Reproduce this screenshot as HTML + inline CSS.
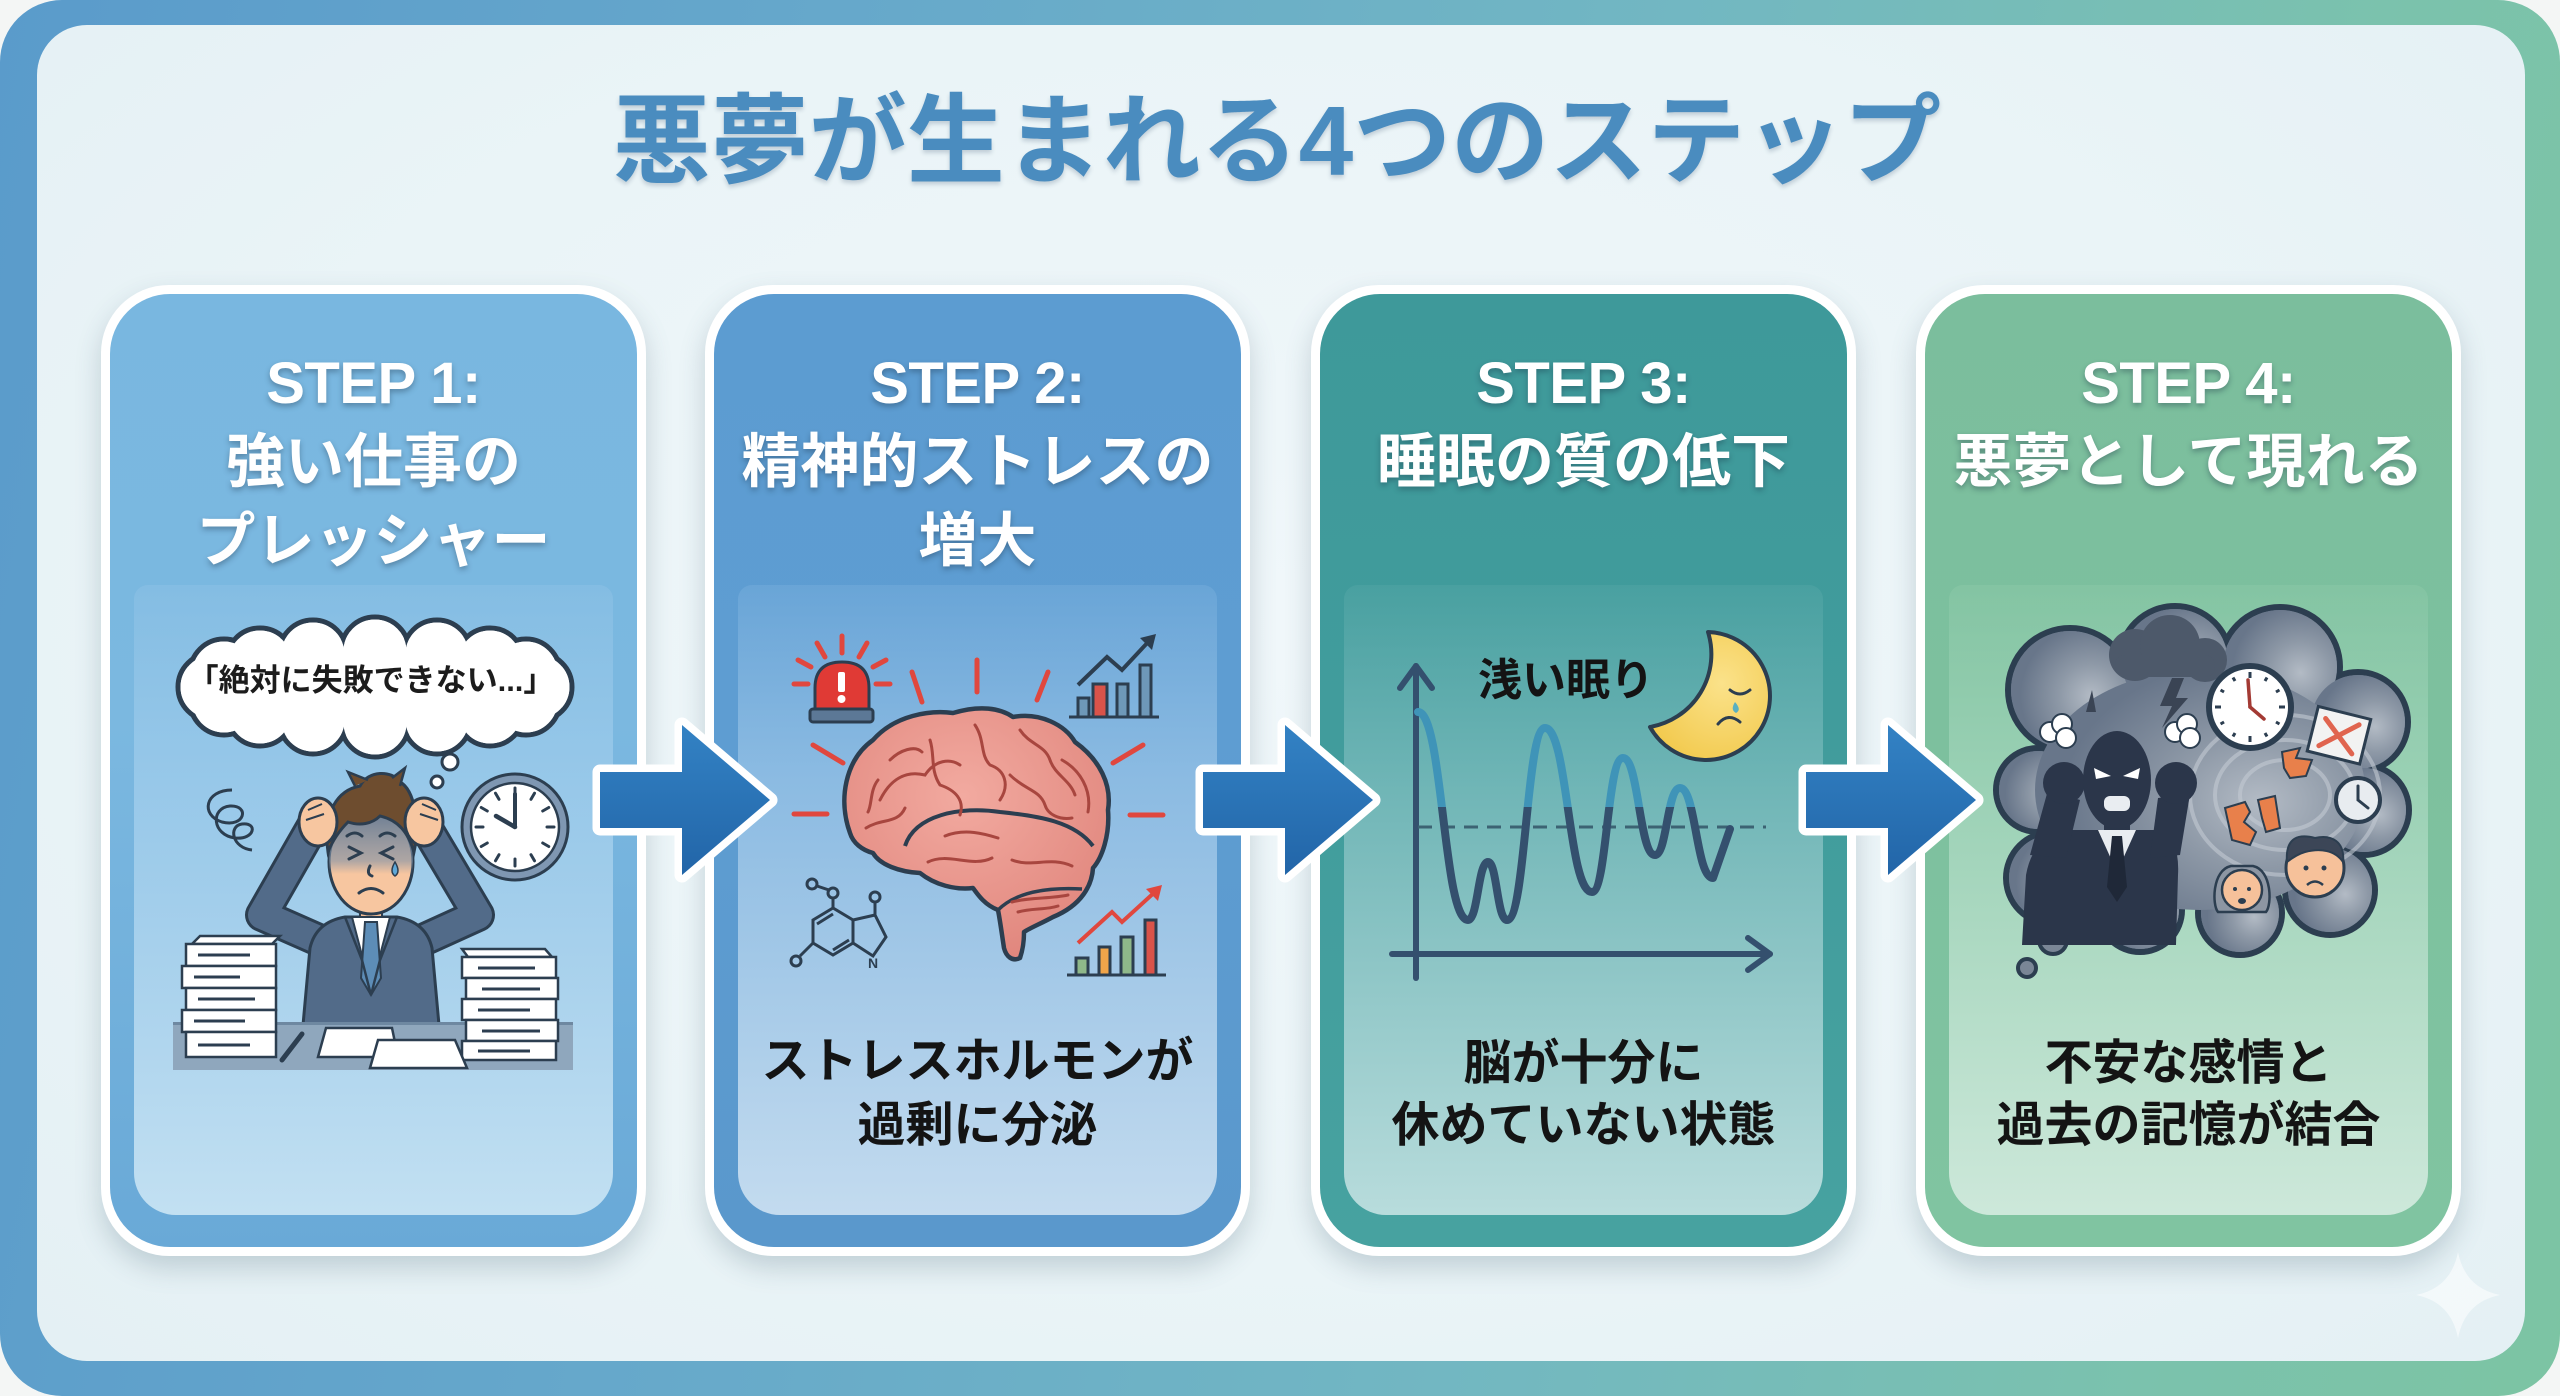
<!DOCTYPE html>
<html lang="ja">
<head>
<meta charset="utf-8">
<style>
  html,body{margin:0;padding:0;}
  body{width:2560px;height:1396px;overflow:hidden;background:#f4f6f5;position:relative;
       font-family:"Liberation Sans","Noto Sans CJK JP",sans-serif;font-weight:bold;}
  .frame{position:absolute;left:0;top:0;width:2560px;height:1396px;border-radius:62px;
       background:linear-gradient(100deg,#5a9bcb 0%,#66a8cb 30%,#72b7c2 60%,#7bc2ad 85%,#7cc4a3 100%);}
  .panel{position:absolute;left:37px;top:25px;width:2488px;height:1336px;border-radius:50px;
       background:radial-gradient(ellipse at 50% 45%,#f0f7fa 0%,#eaf4f7 60%,#e4f0f4 100%);}
  .title{position:absolute;left:0;top:86px;width:2554px;text-align:center;font-size:98px;line-height:110px;
       color:#4a8cbf;text-shadow:0 3px 4px rgba(40,70,100,0.22);white-space:nowrap;}
  .card{position:absolute;top:285px;width:545px;height:971px;border-radius:68px;background:#fff;
       box-shadow:0 12px 26px rgba(50,80,100,0.22);}
  .col{position:absolute;left:9px;top:9px;right:9px;bottom:9px;border-radius:60px;}
  .inn{position:absolute;left:33px;right:33px;top:300px;bottom:41px;border-radius:14px 14px 42px 42px;}
  .h{position:absolute;width:545px;text-align:center;color:#fff;font-size:59px;line-height:80px;
       text-shadow:0 3px 6px rgba(20,40,60,0.35);white-space:nowrap;}
  .h.s{font-size:58px;letter-spacing:-0.5px;}
  .b{position:absolute;width:545px;text-align:center;color:#141414;font-size:48px;line-height:64px;white-space:nowrap;}
</style>
</head>
<body>
<div class="frame"></div>
<div class="panel"></div>
<div class="title">悪夢が生まれる4つのステップ</div>

<!-- cards -->
<div class="card" style="left:101px;">
  <div class="col" style="background:linear-gradient(180deg,#79b7e0 0%,#7bb8e0 45%,#69a9d7 100%);"></div>
  <div class="inn" style="background:linear-gradient(180deg,rgba(150,198,232,0.35) 0%,rgba(160,205,236,0.75) 30%,#c2e0f2 100%);"></div>
</div>
<div class="card" style="left:705px;">
  <div class="col" style="background:linear-gradient(180deg,#5c9cd1 0%,#5e9dd2 45%,#5a98cc 100%);"></div>
  <div class="inn" style="background:linear-gradient(180deg,rgba(128,180,224,0.35) 0%,rgba(150,194,230,0.8) 30%,#c3dbef 100%);"></div>
</div>
<div class="card" style="left:1311px;">
  <div class="col" style="background:linear-gradient(180deg,#3e999a 0%,#419c9c 45%,#47a2a0 100%);"></div>
  <div class="inn" style="background:linear-gradient(180deg,rgba(90,170,170,0.35) 0%,rgba(120,186,187,0.8) 30%,#b8dcdc 100%);"></div>
</div>
<div class="card" style="left:1916px;">
  <div class="col" style="background:linear-gradient(180deg,#7bbe9d 0%,#7dc09e 45%,#80c4a1 100%);"></div>
  <div class="inn" style="background:linear-gradient(180deg,rgba(145,205,172,0.35) 0%,rgba(160,212,185,0.8) 30%,#cde8da 100%);"></div>
</div>

<svg width="2560" height="1396" viewBox="0 0 2560 1396" style="position:absolute;left:0;top:0;">
  <defs>
    <linearGradient id="arrowg" x1="0" y1="0" x2="0" y2="1">
      <stop offset="0" stop-color="#3382c4"/>
      <stop offset="1" stop-color="#2265a8"/>
    </linearGradient>
    <linearGradient id="shade" x1="0" y1="0" x2="0" y2="1">
      <stop offset="0" stop-color="#5d7590" stop-opacity="0.95"/>
      <stop offset="0.8" stop-color="#7d90a6" stop-opacity="0.6"/>
      <stop offset="1" stop-color="#7d90a6" stop-opacity="0"/>
    </linearGradient>
    <clipPath id="headclip"><ellipse cx="371" cy="862" rx="42" ry="52"/></clipPath>
    <radialGradient id="cloudg" cx="0.68" cy="0.55" r="0.6">
      <stop offset="0" stop-color="#b3bbc5"/>
      <stop offset="0.45" stop-color="#8e99a7"/>
      <stop offset="1" stop-color="#68768a"/>
    </radialGradient>
    <clipPath id="above"><rect x="1380" y="600" width="420" height="207"/></clipPath>
    <clipPath id="below"><rect x="1380" y="807" width="420" height="200"/></clipPath>
    <radialGradient id="moong" cx="0.6" cy="0.4" r="0.7">
      <stop offset="0" stop-color="#fbe28a"/>
      <stop offset="1" stop-color="#f2c94c"/>
    </radialGradient>
    <radialGradient id="braing" cx="0.45" cy="0.35" r="0.7">
      <stop offset="0" stop-color="#f2aaa0"/>
      <stop offset="1" stop-color="#e0857c"/>
    </radialGradient>
  </defs>

  <!-- ============ CARD 1 ============ -->
  <g stroke="#2c3e50" stroke-width="5" fill="#fff">
    <circle cx="538" cy="687" r="34"/><circle cx="526" cy="701" r="34"/><circle cx="490" cy="712" r="34"/>
    <circle cx="437" cy="720" r="34"/><circle cx="375" cy="723" r="34"/><circle cx="313" cy="720" r="34"/>
    <circle cx="260" cy="712" r="34"/><circle cx="224" cy="701" r="34"/><circle cx="212" cy="687" r="34"/>
    <circle cx="224" cy="673" r="34"/><circle cx="260" cy="662" r="34"/><circle cx="313" cy="654" r="34"/>
    <circle cx="375" cy="651" r="34"/><circle cx="437" cy="654" r="34"/><circle cx="490" cy="662" r="34"/>
    <circle cx="526" cy="673" r="34"/>
  </g>
  <g fill="#fff">
    <circle cx="538" cy="687" r="31.5"/><circle cx="526" cy="701" r="31.5"/><circle cx="490" cy="712" r="31.5"/>
    <circle cx="437" cy="720" r="31.5"/><circle cx="375" cy="723" r="31.5"/><circle cx="313" cy="720" r="31.5"/>
    <circle cx="260" cy="712" r="31.5"/><circle cx="224" cy="701" r="31.5"/><circle cx="212" cy="687" r="31.5"/>
    <circle cx="224" cy="673" r="31.5"/><circle cx="260" cy="662" r="31.5"/><circle cx="313" cy="654" r="31.5"/>
    <circle cx="375" cy="651" r="31.5"/><circle cx="437" cy="654" r="31.5"/><circle cx="490" cy="662" r="31.5"/>
    <circle cx="526" cy="673" r="31.5"/>
    <ellipse cx="375" cy="687" rx="165" ry="40"/>
  </g>
  <circle cx="450" cy="762" r="8" fill="#fff" stroke="#2c3e50" stroke-width="3"/>
  <circle cx="437" cy="782" r="6" fill="#fff" stroke="#2c3e50" stroke-width="3"/>

  <path d="M232 790 C205 790 200 815 222 822 C245 828 250 805 230 806 C210 808 212 835 235 838 C255 840 258 822 242 824 C228 826 232 848 252 850"
        fill="none" stroke="#2c3e50" stroke-width="3"/>

  <!-- clock -->
  <circle cx="515" cy="827" r="53" fill="#7f97b2" stroke="#2c3e50" stroke-width="3"/>
  <circle cx="515" cy="827" r="44" fill="#fff" stroke="#2c3e50" stroke-width="2.5"/>
  <g stroke="#2c3e50" stroke-width="3" stroke-linecap="round">
    <line x1="515" y1="788" x2="515" y2="795"/>
    <line x1="515" y1="788" x2="515" y2="795" transform="rotate(30 515 827)"/>
    <line x1="515" y1="788" x2="515" y2="795" transform="rotate(60 515 827)"/>
    <line x1="515" y1="788" x2="515" y2="795" transform="rotate(90 515 827)"/>
    <line x1="515" y1="788" x2="515" y2="795" transform="rotate(120 515 827)"/>
    <line x1="515" y1="788" x2="515" y2="795" transform="rotate(150 515 827)"/>
    <line x1="515" y1="788" x2="515" y2="795" transform="rotate(180 515 827)"/>
    <line x1="515" y1="788" x2="515" y2="795" transform="rotate(210 515 827)"/>
    <line x1="515" y1="788" x2="515" y2="795" transform="rotate(240 515 827)"/>
    <line x1="515" y1="788" x2="515" y2="795" transform="rotate(270 515 827)"/>
    <line x1="515" y1="788" x2="515" y2="795" transform="rotate(300 515 827)"/>
    <line x1="515" y1="788" x2="515" y2="795" transform="rotate(330 515 827)"/>
    <line x1="515" y1="827" x2="515" y2="794" stroke-width="4"/>
    <line x1="515" y1="827" x2="496" y2="816" stroke-width="4.5"/>
  </g>

  <!-- person arms -->
  <g fill="none" stroke-linecap="round" stroke-linejoin="round">
    <path d="M330 945 L262 915 L314 824" stroke="#2c3e50" stroke-width="34"/>
    <path d="M412 945 L478 915 L424 824" stroke="#2c3e50" stroke-width="34"/>
    <path d="M330 945 L262 915 L314 824" stroke="#526b89" stroke-width="28"/>
    <path d="M412 945 L478 915 L424 824" stroke="#526b89" stroke-width="28"/>
  </g>
  <path d="M303 1025 L310 948 Q316 922 345 917 L397 917 Q426 922 432 948 L439 1025 Z" fill="#526b89" stroke="#2c3e50" stroke-width="3"/>
  <rect x="360" y="900" width="22" height="22" fill="#f2bb93" stroke="#2c3e50" stroke-width="2"/>
  <polygon points="352,917 371,990 390,917" fill="#fff" stroke="#2c3e50" stroke-width="2"/>
  <polygon points="365,922 377,922 381,978 371,995 361,978" fill="#5d8db7" stroke="#2c3e50" stroke-width="2"/>
  <path d="M345 917 L362 960 L371 995 M397 917 L380 960 L371 995" fill="none" stroke="#2c3e50" stroke-width="2.5"/>
  <ellipse cx="371" cy="862" rx="42" ry="52" fill="#f7c6a0" stroke="#2c3e50" stroke-width="3"/>
  <rect x="325" y="808" width="95" height="66" fill="url(#shade)" clip-path="url(#headclip)"/>
  <g fill="none" stroke="#2c3e50" stroke-width="3" stroke-linecap="round">
    <polyline points="349,847 361,853 349,859"/>
    <polyline points="393,847 381,853 393,859"/>
    <path d="M347 836 Q355 830 362 836 M380 836 Q387 830 395 836"/>
    <path d="M370 866 Q366 874 372 876"/>
    <path d="M359 893 Q371 884 383 893"/>
  </g>
  <path d="M395 862 Q389 872 395 876 Q401 872 395 862 Z" fill="#5fa8d8" stroke="#2c3e50" stroke-width="1.5"/>
  <path d="M328 852 C322 812 338 790 360 786 C368 770 392 770 400 782 C415 790 420 825 414 852 C408 832 398 820 380 816 C372 824 360 826 348 822 C338 832 332 842 328 852 Z"
        fill="#6e4d2f" stroke="#2c3e50" stroke-width="3"/>
  <path d="M355 786 L348 772 L368 780 M392 778 L405 768 L400 786" fill="#6e4d2f" stroke="#2c3e50" stroke-width="2.5"/>
  <ellipse cx="318" cy="822" rx="19" ry="24" fill="#f7c6a0" stroke="#2c3e50" stroke-width="3"/>
  <ellipse cx="424" cy="822" rx="19" ry="24" fill="#f7c6a0" stroke="#2c3e50" stroke-width="3"/>
  <path d="M308 810 L322 804 M306 820 L324 814 M436 810 L422 804 M438 820 L420 814" stroke="#2c3e50" stroke-width="2" fill="none"/>
  <!-- desk -->
  <rect x="173" y="1022" width="400" height="48" fill="#8fa7bd"/>
  <rect x="173" y="1022" width="400" height="3" fill="#6e88a1"/>
  <g fill="#fff" stroke="#2c3e50" stroke-width="2.5">
    <polygon points="192,944 272,944 280,936 200,936"/>
    <rect x="186" y="944" width="90" height="22"/>
    <rect x="182" y="966" width="94" height="22"/>
    <rect x="186" y="988" width="90" height="22"/>
    <rect x="182" y="1010" width="94" height="22"/>
    <rect x="186" y="1032" width="90" height="25"/>
  </g>
  <g stroke="#2c3e50" stroke-width="3">
    <line x1="198" y1="955" x2="250" y2="955"/><line x1="194" y1="977" x2="240" y2="977"/>
    <line x1="198" y1="999" x2="255" y2="999"/><line x1="194" y1="1021" x2="245" y2="1021"/>
    <line x1="198" y1="1045" x2="250" y2="1045"/>
  </g>
  <g fill="#fff" stroke="#2c3e50" stroke-width="2.5">
    <polygon points="468,957 552,957 545,949 462,949"/>
    <rect x="462" y="957" width="94" height="21"/>
    <rect x="466" y="978" width="92" height="21"/>
    <rect x="462" y="999" width="94" height="21"/>
    <rect x="466" y="1020" width="92" height="21"/>
    <rect x="462" y="1041" width="94" height="19"/>
  </g>
  <g stroke="#2c3e50" stroke-width="3">
    <line x1="478" y1="968" x2="535" y2="968"/><line x1="482" y1="989" x2="540" y2="989"/>
    <line x1="478" y1="1010" x2="530" y2="1010"/><line x1="482" y1="1031" x2="540" y2="1031"/>
    <line x1="478" y1="1051" x2="530" y2="1051"/>
  </g>
  <polygon points="318,1057 326,1028 392,1028 398,1057" fill="#fff" stroke="#2c3e50" stroke-width="2.5"/>
  <polygon points="370,1068 378,1040 455,1040 467,1068" fill="#fff" stroke="#2c3e50" stroke-width="2.5"/>
  <line x1="282" y1="1060" x2="302" y2="1034" stroke="#2c3e50" stroke-width="5" stroke-linecap="round"/>

  <!-- ============ CARD 2 ============ -->
  <g stroke="#e0473e" stroke-width="5" stroke-linecap="round">
    <line x1="842" y1="636" x2="842" y2="653"/>
    <line x1="817" y1="643" x2="825" y2="657"/>
    <line x1="867" y1="643" x2="859" y2="657"/>
    <line x1="798" y1="660" x2="811" y2="667"/>
    <line x1="886" y1="660" x2="873" y2="667"/>
    <line x1="794" y1="684" x2="808" y2="684"/>
    <line x1="876" y1="684" x2="890" y2="684"/>
    <line x1="977" y1="660" x2="977" y2="692"/>
    <line x1="912" y1="672" x2="922" y2="702"/>
    <line x1="1048" y1="672" x2="1037" y2="700"/>
    <line x1="813" y1="745" x2="843" y2="763"/>
    <line x1="1143" y1="745" x2="1113" y2="763"/>
    <line x1="794" y1="814" x2="827" y2="814"/>
    <line x1="1130" y1="815" x2="1163" y2="815"/>
  </g>
  <path d="M815 710 L815 688 Q815 662 842 662 Q869 662 869 688 L869 710 Z" fill="#e03a35" stroke="#2c3e50" stroke-width="3"/>
  <rect x="838" y="672" width="7" height="20" rx="2" fill="#fff"/>
  <circle cx="841.5" cy="699" r="4" fill="#fff"/>
  <rect x="810" y="709" width="63" height="13" rx="3" fill="#5c7896" stroke="#2c3e50" stroke-width="3"/>
  <g stroke="#2c3e50" stroke-width="3">
    <rect x="1078" y="698" width="11" height="19" fill="#6e98b8"/>
    <rect x="1093" y="684" width="14" height="33" fill="#d9534a"/>
    <rect x="1117" y="684" width="11" height="33" fill="#6e98b8"/>
    <rect x="1140" y="665" width="11" height="52" fill="#6e98b8"/>
    <line x1="1069" y1="717" x2="1159" y2="717"/>
  </g>
  <polyline points="1078,685 1107,657 1122,670 1150,640" fill="none" stroke="#2c3e50" stroke-width="4"/>
  <polygon points="1156,634 1140,638 1152,650" fill="#2c3e50"/>
  <g stroke="#2c3e50" stroke-width="3">
    <rect x="1076" y="958" width="12" height="17" fill="#8fb88a"/>
    <rect x="1099" y="947" width="11" height="28" fill="#f0a54a"/>
    <rect x="1121" y="937" width="12" height="38" fill="#8fb88a"/>
    <rect x="1145" y="920" width="11" height="55" fill="#d9534a"/>
    <line x1="1067" y1="975" x2="1166" y2="975"/>
  </g>
  <polyline points="1078,943 1112,912 1122,922 1156,891" fill="none" stroke="#e0473e" stroke-width="4"/>
  <polygon points="1162,885 1146,889 1158,901" fill="#e0473e"/>
  <g fill="none" stroke="#2c3e50" stroke-width="3">
    <polygon points="813,920 833,908 853,920 853,943 833,955 813,943"/>
    <polyline points="853,920 875,915 886,937 873,956 853,943"/>
    <line x1="833" y1="908" x2="833" y2="898"/>
    <line x1="829" y1="890" x2="817" y2="886"/>
    <line x1="875" y1="915" x2="875" y2="903"/>
    <line x1="813" y1="943" x2="800" y2="956"/>
    <circle cx="833" cy="893" r="5"/>
    <circle cx="812" cy="884" r="5"/>
    <circle cx="875" cy="897" r="5"/>
    <circle cx="796" cy="961" r="5"/>
    <line x1="817" y1="924" x2="833" y2="914"/>
    <line x1="849" y1="940" x2="833" y2="950"/>
  </g>
  <text x="868" y="968" font-family="Liberation Sans, sans-serif" font-size="14" font-weight="bold" fill="#2c3e50">N</text>
  <path d="M850 833 C838 800 845 760 873 740 C895 715 930 710 953 713 C980 705 1000 708 1013 717 C1040 712 1065 725 1075 742 C1100 760 1112 785 1108 810 C1110 835 1102 858 1093 868 C1092 885 1082 905 1053 917 C1040 924 1030 928 1024 932 C1024 945 1022 952 1020 958 C1012 962 1006 956 1004 948 C1002 935 1000 920 998 910 C985 905 978 895 973 888 C955 890 935 885 920 873 C900 872 880 865 873 853 C862 850 853 843 850 833 Z"
        fill="url(#braing)" stroke="#2c3e50" stroke-width="4.5" stroke-linejoin="round"/>
  <path d="M998 910 C1015 893 1045 887 1082 889" fill="none" stroke="#2c3e50" stroke-width="3.5"/>
  <path d="M905 846 C915 815 960 806 1000 812 C1040 816 1075 822 1093 846" fill="none" stroke="#2c3e50" stroke-width="4"/>
  <g fill="none" stroke="#a8463f" stroke-width="3" stroke-linecap="round">
    <path d="M880 800 C890 780 905 770 925 775 C935 760 950 758 960 765"/>
    <path d="M866 828 C882 818 898 824 905 808"/>
    <path d="M930 740 C935 755 930 770 940 785 C955 790 965 800 960 815"/>
    <path d="M975 725 C985 740 980 755 990 765 C1005 770 1010 785 1000 800"/>
    <path d="M1020 730 C1030 745 1045 745 1050 760 C1055 775 1070 780 1075 795"/>
    <path d="M1062 760 C1080 770 1092 790 1088 812"/>
    <path d="M1010 775 C1025 790 1040 790 1045 805 C1048 815 1060 820 1072 818"/>
    <path d="M928 862 C948 852 972 868 992 858"/>
    <path d="M945 836 C965 828 985 834 998 838"/>
    <path d="M1012 860 C1032 868 1050 856 1072 866"/>
    <path d="M890 760 C900 750 915 745 922 752"/>
    <path d="M1012 902 C1030 897 1050 899 1068 895"/>
    <path d="M1018 912 C1032 908 1046 910 1058 906"/>
    <path d="M878 780 C870 790 872 805 868 812"/>
  </g>

  <!-- ============ CARD 3 ============ -->
  <path d="M1708 632 A64 64 0 1 1 1650 727 A74 74 0 0 0 1708 632 Z" fill="url(#moong)" stroke="#2c3e50" stroke-width="4" stroke-linejoin="round"/>
  <path d="M1730 690 Q1740 698 1750 690" fill="none" stroke="#2c3e50" stroke-width="3" stroke-linecap="round"/>
  <path d="M1735 702 Q1730 710 1736 713 Q1742 710 1735 702 Z" fill="#5ab0c0"/>
  <path d="M1718 724 Q1728 712 1740 722" fill="none" stroke="#2c3e50" stroke-width="3" stroke-linecap="round"/>
  <g stroke="#34506e" stroke-width="6" fill="none" stroke-linecap="round" stroke-linejoin="round">
    <line x1="1416" y1="978" x2="1416" y2="666"/>
    <polyline points="1400,688 1416,666 1432,688"/>
    <line x1="1392" y1="954" x2="1770" y2="954"/>
    <polyline points="1748,938 1770,954 1748,970"/>
  </g>
  <line x1="1418" y1="827" x2="1766" y2="827" stroke="#3c6373" stroke-width="3" stroke-dasharray="14 9"/>
  <g fill="none" stroke-width="8" stroke-linecap="round" stroke-linejoin="round">
    <path clip-path="url(#above)" stroke="#3f94b8" d="M1418 712 C1443 712 1443 920 1468 920 C1478 920 1478 862 1488 862 C1497 862 1497 920 1507 920 C1526 920 1526 728 1545 728 C1568 728 1568 892 1592 892 C1607 892 1607 758 1623 758 C1639 758 1639 855 1655 855 C1667 855 1667 788 1680 788 C1696 788 1696 878 1713 878 L1730 829"/>
    <path clip-path="url(#below)" stroke="#34506e" d="M1418 712 C1443 712 1443 920 1468 920 C1478 920 1478 862 1488 862 C1497 862 1497 920 1507 920 C1526 920 1526 728 1545 728 C1568 728 1568 892 1592 892 C1607 892 1607 758 1623 758 C1639 758 1639 855 1655 855 C1667 855 1667 788 1680 788 C1696 788 1696 878 1713 878 L1730 829"/>
  </g>

  <!-- ============ CARD 4 ============ -->
  <g stroke="#2c3e50" stroke-width="6" fill="#6f7c8d">
    <circle cx="2070" cy="690" r="62"/><circle cx="2175" cy="662" r="56"/><circle cx="2280" cy="667" r="60"/>
    <circle cx="2358" cy="722" r="50"/><circle cx="2364" cy="810" r="45"/><circle cx="2330" cy="890" r="45"/>
    <circle cx="2240" cy="913" r="42"/><circle cx="2140" cy="910" r="42"/><circle cx="2052" cy="878" r="46"/>
    <circle cx="2038" cy="790" r="42"/>
  </g>
  <g fill="url(#cloudg)">
    <circle cx="2070" cy="690" r="59"/><circle cx="2175" cy="662" r="53"/><circle cx="2280" cy="667" r="57"/>
    <circle cx="2358" cy="722" r="47"/><circle cx="2364" cy="810" r="42"/><circle cx="2330" cy="890" r="42"/>
    <circle cx="2240" cy="913" r="39"/><circle cx="2140" cy="910" r="39"/><circle cx="2052" cy="878" r="43"/>
    <circle cx="2038" cy="790" r="39"/>
    <ellipse cx="2200" cy="790" rx="165" ry="120"/>
  </g>
  <g fill="none" stroke="#c3cad3" stroke-width="4" opacity="0.6">
    <ellipse cx="2285" cy="795" rx="70" ry="55"/>
    <ellipse cx="2285" cy="795" rx="45" ry="35"/>
    <ellipse cx="2285" cy="795" rx="95" ry="80"/>
  </g>
  <circle cx="2053" cy="940" r="14" fill="#7a8696" stroke="#2c3e50" stroke-width="4"/>
  <circle cx="2027" cy="968" r="9" fill="#7a8696" stroke="#2c3e50" stroke-width="4"/>
  <g fill="#4d596a">
    <circle cx="2135" cy="655" r="26"/><circle cx="2170" cy="645" r="30"/><circle cx="2205" cy="660" r="22"/>
    <rect x="2115" y="655" width="100" height="22" rx="10"/>
  </g>
  <polygon points="2172,678 2160,706 2172,706 2162,728 2188,698 2176,698 2184,678" fill="#3a4454"/>
  <polygon points="2092,690 2086,712 2096,712" fill="#3a4454"/>
  <g fill="#fff" stroke="#2c3e50" stroke-width="2">
    <circle cx="2050" cy="732" r="10"/><circle cx="2062" cy="724" r="10"/><circle cx="2066" cy="738" r="10"/>
    <circle cx="2175" cy="732" r="10"/><circle cx="2187" cy="724" r="10"/><circle cx="2190" cy="738" r="10"/>
  </g>
  <g fill="#2b364a">
    <path d="M2022 945 L2026 875 Q2032 840 2062 830 L2160 830 Q2180 840 2178 875 L2176 945 Z"/>
    <path d="M2030 855 L2048 790 L2080 800 L2066 858 Z"/>
    <path d="M2150 858 L2158 798 L2190 794 L2180 855 Z"/>
    <circle cx="2064" cy="783" r="21"/>
    <circle cx="2176" cy="783" r="21"/>
    <rect x="2104" y="810" width="26" height="25"/>
    <ellipse cx="2117" cy="780" rx="34" ry="49"/>
  </g>
  <polygon points="2098,830 2117,872 2136,830" fill="#e9edf1"/>
  <polygon points="2112,836 2122,836 2127,887 2117,902 2107,887" fill="#1f2838"/>
  <polygon points="2094,768 2111,776 2096,779" fill="#fff"/>
  <polygon points="2140,768 2123,776 2138,779" fill="#fff"/>
  <rect x="2104" y="796" width="26" height="15" rx="6" fill="#e9edf1"/>
  <circle cx="2250" cy="707" r="41" fill="#fff" stroke="#2c3e50" stroke-width="6"/>
  <g stroke="#2c3e50" stroke-width="3">
    <line x1="2250" y1="672" x2="2250" y2="678"/>
    <line x1="2250" y1="672" x2="2250" y2="678" transform="rotate(90 2250 707)"/>
    <line x1="2250" y1="672" x2="2250" y2="678" transform="rotate(180 2250 707)"/>
    <line x1="2250" y1="672" x2="2250" y2="678" transform="rotate(270 2250 707)"/>
    <line x1="2250" y1="673" x2="2250" y2="677" transform="rotate(30 2250 707)"/>
    <line x1="2250" y1="673" x2="2250" y2="677" transform="rotate(60 2250 707)"/>
    <line x1="2250" y1="673" x2="2250" y2="677" transform="rotate(120 2250 707)"/>
    <line x1="2250" y1="673" x2="2250" y2="677" transform="rotate(150 2250 707)"/>
    <line x1="2250" y1="673" x2="2250" y2="677" transform="rotate(210 2250 707)"/>
    <line x1="2250" y1="673" x2="2250" y2="677" transform="rotate(240 2250 707)"/>
    <line x1="2250" y1="673" x2="2250" y2="677" transform="rotate(300 2250 707)"/>
    <line x1="2250" y1="673" x2="2250" y2="677" transform="rotate(330 2250 707)"/>
  </g>
  <g stroke="#a33a34" stroke-width="3.5" stroke-linecap="round">
    <line x1="2250" y1="707" x2="2248" y2="680"/>
    <line x1="2250" y1="707" x2="2264" y2="719"/>
  </g>
  <g transform="rotate(14 2338 735)">
    <rect x="2312" y="712" width="54" height="46" fill="#f2f2f2" stroke="#2c3e50" stroke-width="3"/>
    <path d="M2322 722 L2356 750 M2356 720 L2322 750" stroke="#e0644f" stroke-width="5" stroke-linecap="round"/>
  </g>
  <polygon points="2282,752 2300,748 2296,758 2312,760 2306,776 2290,778 2284,768" fill="#e8804b" stroke="#2c3e50" stroke-width="2"/>
  <polygon points="2225,808 2245,802 2250,812 2244,822 2256,832 2250,845 2232,840" fill="#e8804b" stroke="#2c3e50" stroke-width="2"/>
  <polygon points="2258,800 2275,796 2280,828 2266,832 2262,818" fill="#e8804b" stroke="#2c3e50" stroke-width="2"/>
  <circle cx="2358" cy="800" r="22" fill="#e8ecf0" stroke="#2c3e50" stroke-width="4"/>
  <path d="M2358 800 L2358 786 M2358 800 L2368 808" stroke="#2c3e50" stroke-width="3" stroke-linecap="round"/>
  <circle cx="2315" cy="868" r="29" fill="#f6c19a" stroke="#2c3e50" stroke-width="3"/>
  <path d="M2287 862 C2285 836 2300 834 2315 838 C2332 834 2345 842 2343 862 C2335 850 2320 848 2305 852 C2298 854 2292 858 2287 862 Z" fill="#3c4657" stroke="#2c3e50" stroke-width="2"/>
  <circle cx="2306" cy="868" r="2.5" fill="#2c3e50"/><circle cx="2324" cy="868" r="2.5" fill="#2c3e50"/>
  <path d="M2307 885 Q2315 878 2323 885" fill="none" stroke="#2c3e50" stroke-width="2.5"/>
  <path d="M2231 866 C2212 870 2212 905 2218 912 L2266 912 C2272 905 2272 870 2253 866 Z" fill="#8d96a3" stroke="#2c3e50" stroke-width="2.5"/>
  <circle cx="2242" cy="890" r="20" fill="#f6c19a" stroke="#2c3e50" stroke-width="2.5"/>
  <circle cx="2235" cy="889" r="2" fill="#2c3e50"/><circle cx="2249" cy="889" r="2" fill="#2c3e50"/>
  <ellipse cx="2242" cy="901" rx="4" ry="3" fill="#2c3e50"/>

  <!-- ============ ARROWS ============ -->
  <g fill="url(#arrowg)" stroke="#fff" stroke-width="15" stroke-linejoin="round" paint-order="stroke">
    <polygon points="600,772 682,772 682,725 770,800 682,875 682,828 600,828"/>
    <polygon points="1203,772 1285,772 1285,725 1373,800 1285,875 1285,828 1203,828"/>
    <polygon points="1806,772 1888,772 1888,725 1976,800 1888,875 1888,828 1806,828"/>
  </g>

  <path d="M2458 1252 Q2465 1288 2500 1295 Q2465 1302 2458 1338 Q2451 1302 2416 1295 Q2451 1288 2458 1252 Z" fill="#ffffff" opacity="0.55"/>
</svg>

<!-- header texts -->
<div class="h s" style="left:101px;top:344px;">STEP 1:</div>
<div class="h" style="left:101px;top:422px;">強い仕事の</div>
<div class="h" style="left:101px;top:501px;">プレッシャー</div>

<div class="h s" style="left:705px;top:344px;">STEP 2:</div>
<div class="h" style="left:705px;top:422px;">精神的ストレスの</div>
<div class="h" style="left:705px;top:501px;">増大</div>

<div class="h s" style="left:1311px;top:344px;">STEP 3:</div>
<div class="h" style="left:1311px;top:422px;">睡眠の質の低下</div>

<div class="h s" style="left:1916px;top:344px;">STEP 4:</div>
<div class="h" style="left:1916px;top:422px;">悪夢として現れる</div>

<!-- bubble text -->
<div style="position:absolute;left:121px;top:661px;width:500px;text-align:center;font-size:31px;line-height:40px;color:#1c1c1c;white-space:nowrap;">「絶対に失敗できない...」</div>

<!-- graph label -->
<div style="position:absolute;left:1470px;top:651px;width:192px;text-align:center;font-size:44px;line-height:60px;color:#141414;white-space:nowrap;">浅い眠り</div>

<!-- bottom texts -->
<div class="b" style="left:705px;top:1030px;">ストレスホルモンが</div>
<div class="b" style="left:705px;top:1094px;">過剰に分泌</div>

<div class="b" style="left:1311px;top:1032px;">脳が十分に</div>
<div class="b" style="left:1311px;top:1094px;">休めていない状態</div>

<div class="b" style="left:1916px;top:1032px;">不安な感情と</div>
<div class="b" style="left:1916px;top:1094px;">過去の記憶が結合</div>
</body>
</html>
